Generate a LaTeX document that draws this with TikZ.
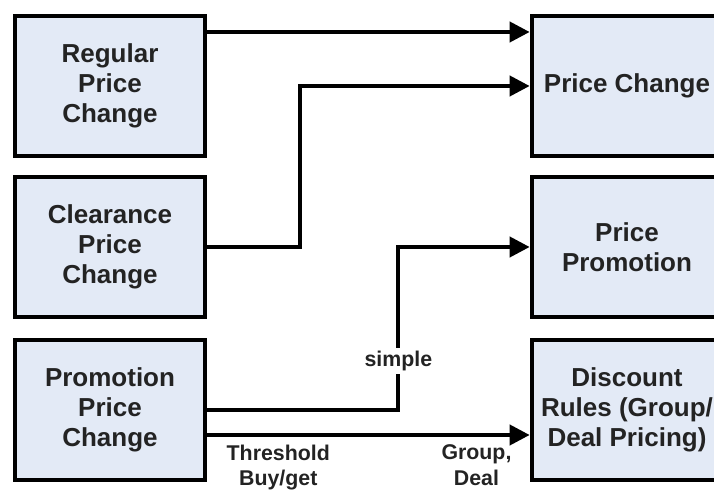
\documentclass[tikz,border=0pt]{standalone}
\usepackage{fontspec}
\setmainfont{Liberation Sans}
\usepackage{xcolor}
\usetikzlibrary{arrows.meta, positioning}

\definecolor{boxfill}{RGB}{227,234,246}
\definecolor{inkgray}{RGB}{35,35,35}

\begin{document}
\begin{tikzpicture}[x=0.75pt,y=0.75pt,yscale=-1,xscale=1,
  pbox/.style={draw=black, line width=3pt, fill=boxfill, text=inkgray,
    minimum width=143pt, minimum height=105pt, align=center, inner sep=1pt,
    font=\fontsize{19.5}{22.5}\selectfont\bfseries},
  flow/.style={line width=3pt, -{Triangle[length=15pt,width=15pt]}},
  tag/.style={text=inkgray, align=center, inner sep=2pt,
    font=\fontsize{16}{19}\selectfont\bfseries}]
\useasboundingbox (0,0) rectangle (714,491);
\clip (0,0) rectangle (714,491);

%Shape: Rectangle [left column]
\node[pbox] (regular) at (110,86) {Regular\\Price\\Change};
\node[pbox] (clearance) at (110,247) {Clearance\\Price\\Change};
\node[pbox] (promo) at (110,410) {Promotion\\Price\\Change};

%Shape: Rectangle [right column]
\node[pbox] (pchange) at (627,86) {Price Change};
\node[pbox] (ppromo) at (627,247) {Price\\Promotion};
\node[pbox] (discount) at (627,410) {Discount\\Rules (Group/\\Deal Pricing)};

%Straight Lines
\draw[flow] ([yshift=-40.5pt]regular.east) -- ([yshift=-40.5pt]pchange.west);
\draw[flow] (clearance.east) -- ++(93,0) |- (pchange.west);
\draw[flow] (promo.east) -- ++(191,0) |- node[pos=0.15, tag, fill=white] {simple} (ppromo.west);
\draw[flow] ([yshift=18.75pt]promo.east) -- node[pos=0.22, tag, below=4pt] {Threshold\\Buy/get}
  node[pos=0.835, tag, below=4pt] {Group,\\Deal} ([yshift=18.75pt]discount.west);

\end{tikzpicture}
\end{document}
